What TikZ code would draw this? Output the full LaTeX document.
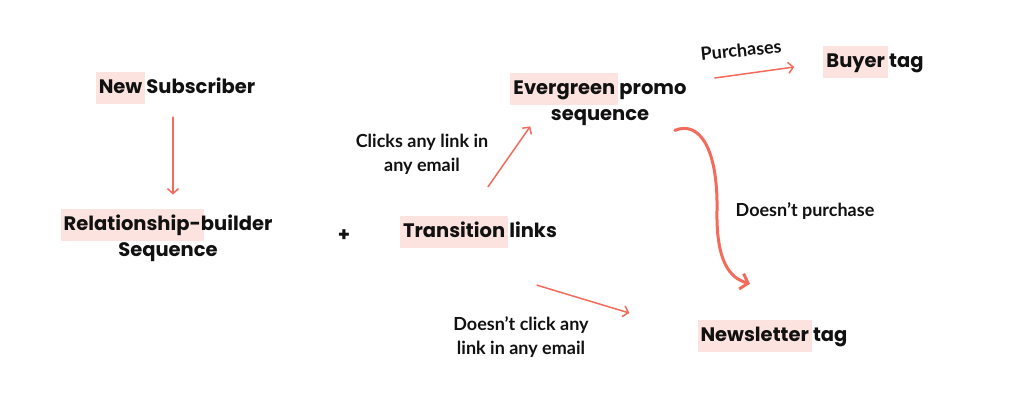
\documentclass[tikz,border=0pt]{standalone}
\usepackage{fontspec}
\setmainfont{Poppins}
\newfontfamily\lblfont{Lato}
\usetikzlibrary{arrows.meta,calc}
\definecolor{cMuiTen}{HTML}{F26B5B}
\definecolor{cNenHong}{HTML}{FDE3E0}
\definecolor{cChu}{HTML}{111111}
\newcommand\hl[1]{{\setlength\fboxsep{3pt}\kern-3pt\colorbox{cNenHong}{\strut #1}\kern-3pt}}

\begin{document}
\begin{tikzpicture}[x=1pt, y=-1pt,
  chinh/.style={
    inner sep=0pt, align=center, text=cChu,
    font=\fontsize{19.5}{26}\selectfont\bfseries
  },
  nhan/.style={
    inner sep=0pt, align=center, text=cChu,
    font=\lblfont\fontsize{18}{24}\selectfont\bfseries
  },
  muiten/.style={
    draw=cMuiTen, line width=1.5pt, line cap=round,
    -{Straight Barb[length=5pt, width=11pt, line width=1.5pt]}
  },
  muitencong/.style={
    draw=cMuiTen, line width=3pt, line cap=round,
    -{Straight Barb[length=7pt, width=16pt, line width=3pt]}
  }
]
\useasboundingbox (0,0) rectangle (1024,416);

% ── Cac hop chu chinh ──
\node[chinh] (newsub)     at (177,88)  {\hl{New} Subscriber};
\node[chinh] (relseq)     at (168,235) {\hl{Relationship-}builder\\Sequence};
\node[chinh] (plus)       at (344,236) {+};
\node[chinh] (trans)      at (480,232) {\hl{Transition} links};
\node[chinh] (evergreen)  at (600,99)  {\hl{Evergreen} promo\\sequence};
\node[chinh] (buyer)      at (875,62)  {\hl{Buyer} tag};
\node[chinh] (newsletter) at (774,336) {\hl{Newsletter} tag};

% ── Nhan tren mui ten ──
\node[nhan] (clicks)  at (422,154) {Clicks any link in\\any email};
\node[nhan, rotate=6] (purch) at (741,50) {Purchases};
\node[nhan] (nopurch) at (805,211) {Doesn’t purchase};
\node[nhan] (noclick) at (521,337) {Doesn’t click any\\link in any email};

% ── Mui ten ──
\draw[muiten, shorten <=13pt, shorten >=14pt]
  ([xshift=-4pt]newsub.south) -- ([xshift=-4pt]newsub.south |- relseq.north);
\draw[muiten] ([xshift=8pt,yshift=29pt]trans.north) -- ([xshift=17pt,yshift=-1pt]evergreen.south west);
\draw[muiten] ([xshift=28pt,yshift=21pt]evergreen.east) -- ([xshift=-32pt,yshift=-5pt]buyer.west);
\coordinate (congdau) at ([xshift=-12pt,yshift=-5pt]evergreen.south east);
\coordinate (congcuoi) at ([xshift=-24pt,yshift=36pt]newsletter.north);
\draw[muitencong] (congdau) .. controls (700,120) and (718,150) .. (717,210)
  .. controls (716,262) and (730,278) .. (congcuoi);
\coordinate (khongdau) at ([xshift=57pt,yshift=-37pt]trans.south);
\coordinate (khongcuoi) at ([xshift=-71pt,yshift=23pt]newsletter.west);
\draw[muiten] (khongdau) -- (khongcuoi);

\end{tikzpicture}
\end{document}
